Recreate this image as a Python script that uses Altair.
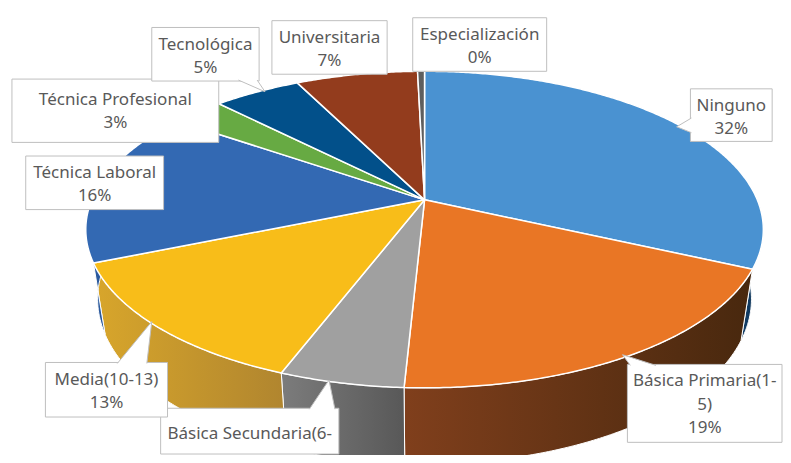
import math
import pandas as pd
import altair as alt

# ---------------- data ----------------
categories = ["Ninguno", "Básica Primaria(1-5)", "Básica Secundaria(6-9)", "Media(10-13)",
              "Técnica Laboral", "Técnica Profesional", "Tecnológica", "Universitaria",
              "Especialización"]
values = [32, 19, 5, 13, 16, 3, 5, 7, 0.4]
label_names = [["Ninguno"], ["Básica Primaria(1-", "5)"], ["Básica Secundaria(6-", "9)"],
               ["Media(10-13)"], ["Técnica Laboral"], ["Técnica Profesional"],
               ["Tecnológica"], ["Universitaria"], ["Especialización"]]

# ---------------- style ----------------
top_colors = ["#4A92D1", "#E97625", "#A0A0A0", "#F8BD19", "#3369B3", "#67AA43",
              "#02508A", "#933C1D", "#5E5E5E"]
wall_colors = {
    "Ninguno": ("#14406A", "#0A2D4C"),
    "Básica Primaria(1-5)": ("#803F1C", "#48280E"),
    "Básica Secundaria(6-9)": ("#7C7C7C", "#585858"),
    "Media(10-13)": ("#D8A62B", "#B0852F"),
    "Técnica Laboral": ("#2F60A6", "#2A5799"),
}
TEXT_COLOR = "#595959"
BOX_STROKE = "#BFBFBF"

# ---------------- layout (reference pixel frame) ----------------
CX, CY = 427, 197          # pie centre on screen
A, B, P = 337.9, 156.8, 0.1877   # projected radii and perspective factor
T0, T1 = 70, 8             # thickness of the pie side
SHRINK = 0.965             # bottom face horizontal shrink
FRONT = (90, 270)          # visible side range (deg, clockwise from top)
label_boxes = [(697, 83, 780, 137), (633, 366, 790, 446), (159, 411, 340, 458),
               (42, 364, 166, 420), (22, 152, 162, 207), (8, 73, 218, 138),
               (150, 20, 259, 75), (272, 13, 389, 68), (415, 10, 551, 65)]
first_line = [17.5, 17.5, 26, 17.5, 17.5, 21, 17.5, 17.5, 17.5]
LINE_H = 24
pointers = {
    0: [(698, 113), (683, 122), (698, 128)],
    1: [(636, 367), (628, 356), (662, 367)],
    2: [(310, 412), (330, 382), (336, 412)],
    3: [(115, 365), (150, 322), (145, 365)],
    6: [(238, 74), (265, 86), (257, 74)],
}


def ell(theta, bottom=False):
    t = math.radians(theta)
    u, v = math.sin(t), -math.cos(t)
    w = 1 - P * v
    x = CX + A * u / w
    y = CY + B * v / w
    if bottom:
        x = CX + SHRINK * (x - CX)
        y = y + T0 + T1 * v
    return x, y


def arc(a, b, bottom=False):
    n = max(2, int(math.ceil(abs(b - a) / 0.5)) + 1)
    return [ell(a + (b - a) * i / (n - 1), bottom) for i in range(n)]


total = sum(values)
top_rows, wall_rows = [], []
start = 0.0
for cat, val in zip(categories, values):
    a1 = 360 * start / total
    a2 = 360 * (start + val) / total
    start += val
    pts = [(CX, CY)] + arc(a1, a2) + [(CX, CY)]
    for i, (x, y) in enumerate(pts):
        top_rows.append(dict(cat=cat, i=i, x=x, y=y))
    lo, hi = max(a1, FRONT[0]), min(a2, FRONT[1])
    if hi > lo:
        wp = arc(lo, hi) + arc(hi, lo, bottom=True)
        wp.append(wp[0])
        for i, (x, y) in enumerate(wp):
            wall_rows.append(dict(cat=cat, i=i, x=x, y=y))

top_df = pd.DataFrame(top_rows)
wall_df = pd.DataFrame(wall_rows)

box_rows, text_rows, ptr_rows = [], [], []
for k, cat in enumerate(categories):
    x1, y1, x2, y2 = label_boxes[k]
    box_rows.append(dict(cat=cat, x1=x1, x2=x2, y1=y1, y2=y2))
    lines = label_names[k] + [f"{round(values[k])}%"]
    for j, line in enumerate(lines):
        yy = y1 + first_line[k] + LINE_H * j
        if yy + 8 <= y2:
            text_rows.append(dict(cat=cat, t=line, x=(x1 + x2) / 2, y=yy))
    if k in pointers:
        for i, (x, y) in enumerate(pointers[k]):
            ptr_rows.append(dict(cat=cat, i=i, x=x, y=y))

box_df = pd.DataFrame(box_rows)
text_df = pd.DataFrame(text_rows)
ptr_df = pd.DataFrame(ptr_rows)

xs = alt.Scale(domain=[4, 791], nice=False, zero=False)
ys = alt.Scale(domain=[0, 459], nice=False, zero=False, reverse=True)
X = alt.X("x:Q", scale=xs, axis=None)
Y = alt.Y("y:Q", scale=ys, axis=None)

layers = []
for cat, (c1, c2) in wall_colors.items():
    if cat not in set(wall_df["cat"]):
        continue
    grad = alt.LinearGradient(gradient="linear",
                              stops=[alt.GradientStop(color=c1, offset=0),
                                     alt.GradientStop(color=c2, offset=1)],
                              x1=0, x2=1, y1=0, y2=0)
    layers.append(
        alt.Chart(wall_df).transform_filter(alt.datum.cat == cat)
        .mark_line(filled=True, fill=grad, stroke="white", strokeWidth=1, clip=True)
        .encode(x=X, y=Y, order=alt.Order("i:Q"))
    )

top = alt.Chart(top_df).mark_line(filled=True, stroke="white", strokeWidth=1.5,
                                  strokeJoin="round", clip=True).encode(
    x=X, y=Y, order=alt.Order("i:Q"),
    color=alt.Color("cat:N", scale=alt.Scale(domain=categories, range=top_colors), legend=None),
)
layers.append(top)

boxes = alt.Chart(box_df).mark_rect(fill="white", stroke=BOX_STROKE, strokeWidth=1, clip=True).encode(
    x=alt.X("x1:Q", scale=xs, axis=None), x2="x2:Q",
    y=alt.Y("y1:Q", scale=ys, axis=None), y2="y2:Q",
)
layers.append(boxes)

ptrs = alt.Chart(ptr_df).mark_line(filled=True, fill="white", stroke=BOX_STROKE, strokeWidth=1,
                                   clip=True).encode(
    x=X, y=Y, order=alt.Order("i:Q"), detail="cat:N")
layers.append(ptrs)

texts = alt.Chart(text_df).mark_text(font="Noto Sans", fontSize=17, color=TEXT_COLOR,
                                     align="center", baseline="middle", clip=True).encode(
    x=X, y=Y, text="t:N")
layers.append(texts)

chart = alt.layer(*layers).properties(
    width=775, height=447, padding=0,
    autosize=alt.AutoSizeParams(type="fit", contains="padding"),
).configure_view(stroke=None)

chart.save("out.html", embed_options={"renderer": "svg", "actions": False})
